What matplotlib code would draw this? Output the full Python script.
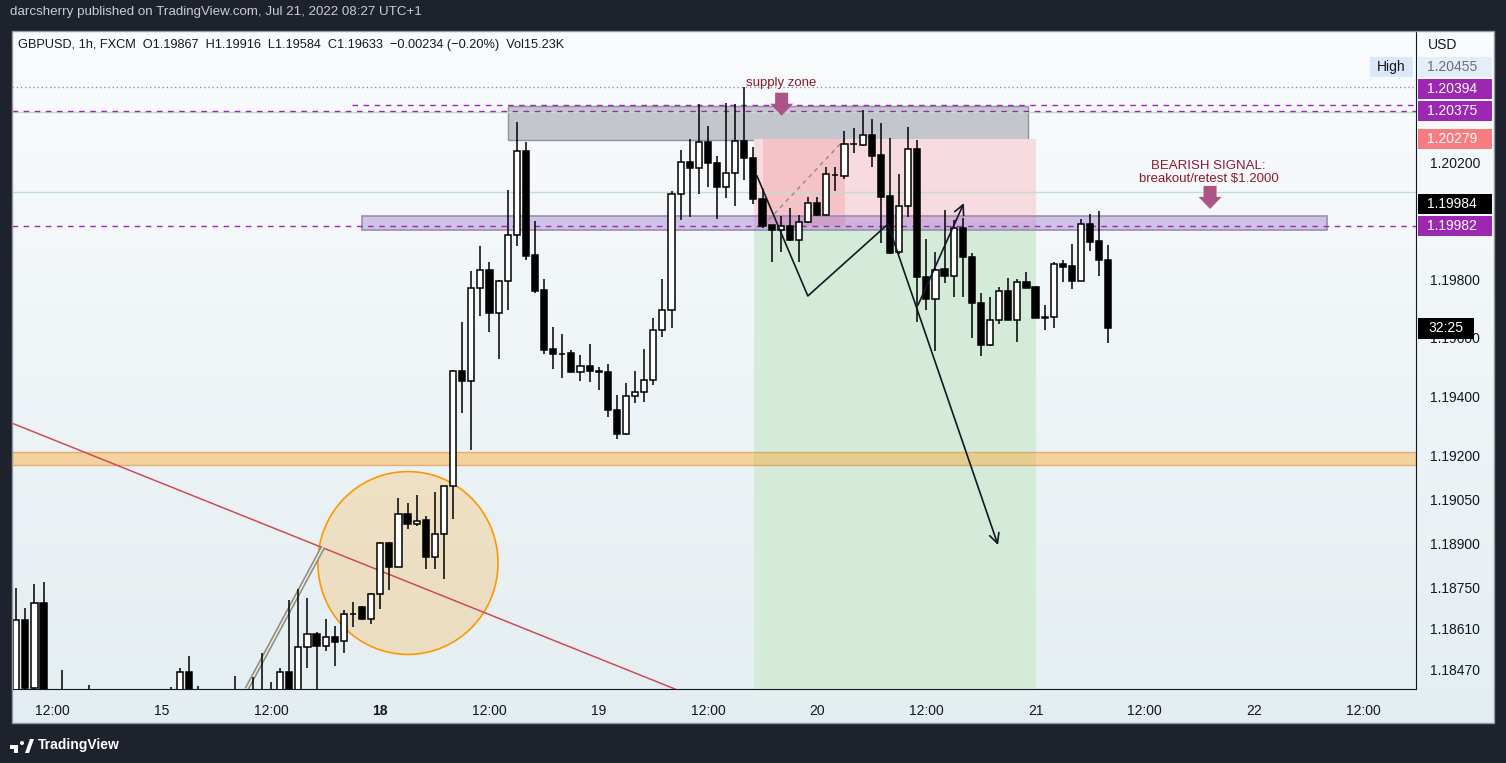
import matplotlib
matplotlib.use("Agg")
import matplotlib.pyplot as plt
import matplotlib.transforms as mtransforms
from matplotlib.patches import Rectangle, Ellipse, Polygon
import numpy as np

plt.rcParams['font.family'] = ['Liberation Sans', 'DejaVu Sans']

# GBPUSD 1h candles, bar 0 = Jul 18 00:00 (UTC+1)
bar_idx = np.arange(-40, 81)
opens = [1.18320, 1.18636, 1.18406, 1.18694, 1.18260, 1.18320, 1.18360, 1.18290, 1.18340, 1.18380,
         1.18330, 1.18300, 1.18340, 1.18360, 1.18380, 1.18350, 1.18370, 1.18390, 1.18380, 1.18459,
         1.18400, 1.18370, 1.18340, 1.18360, 1.18380, 1.18360, 1.18330, 1.18370, 1.18390, 1.18360,
         1.18459, 1.18400, 1.18544, 1.18589, 1.18549, 1.18579, 1.18565, 1.18657, 1.18681, 1.18640,
         1.18725, 1.18900, 1.18819, 1.18998, 1.18964, 1.18977, 1.18853, 1.18930, 1.19094, 1.19486,
         1.19452, 1.19769, 1.19830, 1.19686, 1.19793, 1.19950, 1.20237, 1.19882, 1.19762, 1.19561,
         1.19546, 1.19547, 1.19482, 1.19503, 1.19486, 1.19482, 1.19353, 1.19271, 1.19401, 1.19414,
         1.19455, 1.19626, 1.19694, 1.20090, 1.20199, 1.20179, 1.20267, 1.20196, 1.20116, 1.20161,
         1.20271, 1.20213, 1.20073, 1.19984, 1.19967, 1.19983, 1.19933, 1.19994, 1.20059, 1.20018,
         1.20156, 1.20151, 1.20260, 1.20257, 1.20291, 1.20223, 1.20083, 1.19892, 1.20049, 1.20243,
         1.19807, 1.19734, 1.19834, 1.19812, 1.19974, 1.19875, 1.19718, 1.19577, 1.19661, 1.19760,
         1.19662, 1.19790, 1.19772, 1.19669, 1.19670, 1.19851, 1.19844, 1.19795, 1.19987, 1.19929, 1.19867]
highs = [1.18745, 1.18677, 1.18759, 1.18766, 1.18380, 1.18467, 1.18390, 1.18370, 1.18414, 1.18400,
         1.18380, 1.18360, 1.18390, 1.18395, 1.18398, 1.18390, 1.18398, 1.18408, 1.18474, 1.18513,
         1.18412, 1.18390, 1.18380, 1.18398, 1.18445, 1.18390, 1.18442, 1.18524, 1.18426, 1.18473,
         1.18705, 1.18742, 1.18711, 1.18597, 1.18641, 1.18617, 1.18671, 1.18698, 1.18684, 1.18730,
         1.18903, 1.18902, 1.19055, 1.19035, 1.19063, 1.18992, 1.19075, 1.19094, 1.19490, 1.19653,
         1.19828, 1.19913, 1.19858, 1.19798, 1.20103, 1.20336, 1.20267, 1.19998, 1.19800, 1.19636,
         1.19613, 1.19558, 1.19540, 1.19578, 1.19500, 1.19510, 1.19404, 1.19445, 1.19486, 1.19561,
         1.19668, 1.19800, 1.20100, 1.20240, 1.20277, 1.20397, 1.20322, 1.20219, 1.20400, 1.20397,
         1.20455, 1.20250, 1.20107, 1.19986, 1.20015, 1.20042, 1.20018, 1.20080, 1.20080, 1.20182,
         1.20182, 1.20305, 1.20316, 1.20377, 1.20347, 1.20333, 1.20281, 1.20159, 1.20319, 1.20275,
         1.19937, 1.19892, 1.20036, 1.20002, 1.20009, 1.19890, 1.19752, 1.19738, 1.19775, 1.19803,
         1.19800, 1.19825, 1.19777, 1.19711, 1.19858, 1.19865, 1.19920, 1.20006, 1.20022, 1.20032, 1.19916]
lows = [1.18260, 1.18380, 1.18390, 1.18220, 1.18180, 1.18280, 1.18260, 1.18220, 1.18290, 1.18300,
        1.18270, 1.18250, 1.18290, 1.18310, 1.18330, 1.18300, 1.18320, 1.18340, 1.18360, 1.18380,
        1.18350, 1.18310, 1.18290, 1.18320, 1.18340, 1.18310, 1.18290, 1.18330, 1.18340, 1.18330,
        1.18360, 1.18380, 1.18475, 1.18390, 1.18533, 1.18481, 1.18524, 1.18614, 1.18638, 1.18624,
        1.18676, 1.18740, 1.18818, 1.18949, 1.18959, 1.18810, 1.18810, 1.18776, 1.18983, 1.19343,
        1.19216, 1.19676, 1.19621, 1.19529, 1.19695, 1.19914, 1.19867, 1.19753, 1.19546, 1.19493,
        1.19464, 1.19480, 1.19454, 1.19448, 1.19423, 1.19329, 1.19254, 1.19268, 1.19378, 1.19380,
        1.19438, 1.19604, 1.19635, 1.20001, 1.20013, 1.20090, 1.20114, 1.20004, 1.20076, 1.20049,
        1.20138, 1.20056, 1.19974, 1.19858, 1.19894, 1.19930, 1.19860, 1.19992, 1.20015, 1.20015,
        1.20100, 1.20141, 1.20230, 1.20255, 1.20184, 1.19925, 1.19885, 1.19885, 1.20013, 1.19653,
        1.19695, 1.19556, 1.19788, 1.19738, 1.19738, 1.19598, 1.19539, 1.19573, 1.19646, 1.19660,
        1.19587, 1.19770, 1.19668, 1.19628, 1.19633, 1.19792, 1.19766, 1.19794, 1.19897, 1.19812, 1.19584]
closes = [1.18636, 1.18406, 1.18694, 1.18260, 1.18320, 1.18360, 1.18290, 1.18340, 1.18380, 1.18330,
          1.18300, 1.18340, 1.18360, 1.18380, 1.18350, 1.18370, 1.18390, 1.18380, 1.18459, 1.18400,
          1.18370, 1.18340, 1.18360, 1.18380, 1.18360, 1.18330, 1.18370, 1.18390, 1.18360, 1.18459,
          1.18400, 1.18544, 1.18589, 1.18548, 1.18578, 1.18563, 1.18657, 1.18658, 1.18640, 1.18725,
          1.18900, 1.18819, 1.18998, 1.18964, 1.18976, 1.18853, 1.18930, 1.19094, 1.19486, 1.19452,
          1.19769, 1.19830, 1.19686, 1.19793, 1.19950, 1.20237, 1.19880, 1.19761, 1.19560, 1.19544,
          1.19545, 1.19482, 1.19503, 1.19486, 1.19485, 1.19353, 1.19271, 1.19401, 1.19414, 1.19455,
          1.19626, 1.19694, 1.20090, 1.20199, 1.20179, 1.20267, 1.20196, 1.20116, 1.20161, 1.20271,
          1.20213, 1.20073, 1.19983, 1.19967, 1.19983, 1.19933, 1.19994, 1.20059, 1.20018, 1.20158,
          1.20155, 1.20260, 1.20261, 1.20291, 1.20221, 1.20082, 1.19890, 1.20049, 1.20243, 1.19807,
          1.19734, 1.19833, 1.19812, 1.19974, 1.19875, 1.19718, 1.19577, 1.19661, 1.19759, 1.19662,
          1.19790, 1.19771, 1.19669, 1.19670, 1.19851, 1.19843, 1.19795, 1.19987, 1.19928, 1.19867, 1.19633]

# axis labels
xtick_pos = [-36, -24, -12, 0, 12, 24, 36, 48, 60, 72, 84, 96, 108]
xtick_lbl = ['12:00', '15', '12:00', '18', '12:00', '19', '12:00', '20', '12:00', '21', '12:00', '22', '12:00']
ytick_vals = [1.2020, 1.1980, 1.1960, 1.1940, 1.1920, 1.1905, 1.1890, 1.1875, 1.1861, 1.1847]

# price labels on the scale
lbl_vals = [1.20455, 1.20394, 1.20375, 1.20279, 1.19984, 1.19982]
lbl_bg = ['#e4eefb', '#9c27b0', '#9c27b0', '#f77c80', '#000000', '#9c27b0']
lbl_fg = ['#6a6d78', 'white', 'white', 'white', 'white', 'white']
countdown = '32:25'

# drawings (bar index, price)
supply_zone = (14.0, 71.2, 1.20275, 1.20391)
retest_zone = (-2.0, 104.0, 1.19968, 1.20016)
demand_band = (1.19166, 1.19211)
pos_tool = (41.05, 72.05, 1.19982, 1.20279)        # x0, x1, entry, stop
pos_active = (42.05, 51.07)
hi_line = 1.20455
dashed_lvls = [(1.20394, -3.1), (1.20375, None), (1.19982, None)]
green_lvls = [1.20371, 1.20099]
path_pts = [(41.40, 1.20152), (46.98, 1.19743), (55.78, 1.19988), (67.88, 1.18893)]
arrow2 = [(59.09, 1.19712), (64.13, 1.20060)]
trend_red = [(-40.47, 1.19309), (32.38, 1.18402)]
trend_gray = [(-14.68, 1.18402), (-6.30, 1.18886)]
circle = (3.04, 1.18832, 19.8, 0.00624)

W, H = 1506, 763
PX = 3.412e-5     # price per pixel
BX = 1 / 9.1      # bars per pixel

fig = plt.figure(figsize=(W / 100, H / 100), dpi=100)
fig.patch.set_facecolor('#1e222d')

def fx(x):
    return x / W

def fy(y):
    return 1 - y / H

# pane background gradient
bg = fig.add_axes([fx(12), fy(723), (1494 - 12) / W, (723 - 31) / H])
top_c = np.array([0.978, 0.986, 0.994])
bot_c = np.array([0.894, 0.931, 0.943])
t = np.linspace(0, 1, 256)[:, None]
grad = top_c[None, :] * (1 - t) + bot_c[None, :] * t
bg.imshow(grad[:, None, :], aspect='auto', extent=[0, 1, 0, 1])
bg.set_axis_off()
fig.add_artist(Rectangle((fx(12), fy(723)), (1494 - 12) / W, (723 - 31) / H, transform=fig.transFigure,
                         fill=False, ec='#9598a1', lw=1))

ax = fig.add_axes([fx(12), fy(689), (1416 - 12) / W, (689 - 31) / H])
ax.set_facecolor('none')
ax.set_xlim(-40.47, 113.81)
ax.set_ylim(1.18402, 1.20647)

# zones
ax.add_patch(Rectangle((supply_zone[0], supply_zone[2]), supply_zone[1] - supply_zone[0],
                       supply_zone[3] - supply_zone[2], fc='#c4c6cd', ec='#8f929b', lw=1, zorder=1))
x0, x1, entry, stop = pos_tool
ax.add_patch(Rectangle((x0, entry), x1 - x0, stop - entry, fc='#f7dbe0', ec='none', zorder=1))
ax.add_patch(Rectangle((x0, 1.180), x1 - x0, entry - 1.180, fc='#d5ebda', ec='none', zorder=1))
ax.add_patch(Rectangle((pos_active[0], entry), pos_active[1] - pos_active[0], stop - entry,
                       fc='#f4c2c7', ec='none', zorder=1))
ax.plot([pos_active[0], pos_active[1]], [entry, stop], color='#8a8a8a', lw=1, ls=(0, (3, 3)), zorder=2)
ax.axhspan(demand_band[0], demand_band[1], fc=(1.0, 0.62, 0.08, 0.38), ec=(0.85, 0.55, 0.25, 0.6), lw=1,
           zorder=1.4)
ax.add_patch(Rectangle((retest_zone[0], retest_zone[2]), retest_zone[1] - retest_zone[0],
                       retest_zone[3] - retest_zone[2], fc=(0.55, 0.38, 0.8, 0.35), ec='#9d8cb3', lw=1.2,
                       zorder=1.5))
ax.add_patch(Ellipse((circle[0], circle[1]), circle[2], circle[3], fc=(1, 0.6, 0, 0.2), ec='#ff9800',
                     lw=1.2, zorder=1.5))

# horizontal levels
ax.axhline(hi_line, color='#8f929b', lw=1, ls=(0, (1, 2)), zorder=1)
for v in green_lvls:
    ax.axhline(v, color='#bfe0c7', lw=1, zorder=1)
for v, start in dashed_lvls:
    xs = ax.get_xlim()
    ax.plot([start if start is not None else xs[0], xs[1]], [v, v], color='#9c27b0', lw=1,
            ls=(0, (4, 4)), zorder=2)

# trend lines
ax.plot([p[0] for p in trend_red], [p[1] for p in trend_red], color='#cf4c56', lw=1.1, zorder=2)
ax.plot([p[0] for p in trend_gray], [p[1] for p in trend_gray], color='#8a8a8a', lw=3.4, zorder=2,
        solid_capstyle='butt')
ax.plot([p[0] for p in trend_gray], [p[1] for p in trend_gray], color='#ece8cf', lw=1.2, zorder=2.1,
        solid_capstyle='butt')

# candles
body_w = 0.68
for i, o, h, l, c in zip(bar_idx, opens, highs, lows, closes):
    ax.plot([i, i], [l, h], color='black', lw=1.1, zorder=3, solid_capstyle='butt')
    fc = 'white' if c >= o else 'black'
    ax.add_patch(Rectangle((i - body_w / 2, min(o, c)), body_w, abs(c - o), fc=fc, ec='black', lw=1.1,
                           zorder=3.2))

# path drawing
ax.plot([p[0] for p in path_pts[:-1]], [p[1] for p in path_pts[:-1]], color='#131722', lw=1.2, zorder=5)
ax.annotate('', xy=path_pts[-1], xytext=path_pts[-2],
            arrowprops=dict(arrowstyle='->,head_length=0.7,head_width=0.35', color='#131722', lw=1.2,
                            shrinkA=0, shrinkB=0), zorder=5)
ax.annotate('', xy=arrow2[1], xytext=arrow2[0],
            arrowprops=dict(arrowstyle='->,head_length=0.7,head_width=0.35', color='#131722', lw=1.2,
                            shrinkA=0, shrinkB=0), zorder=5)

def down_arrow(k, tip, color):
    sw, hw = 6.5 * BX, 11.5 * BX
    hl, tl = 12 * PX, 11 * PX
    pts = [(k - sw, tip + hl + tl), (k + sw, tip + hl + tl), (k + sw, tip + hl), (k + hw, tip + hl),
           (k, tip), (k - hw, tip + hl), (k - sw, tip + hl)]
    ax.add_patch(Polygon(pts, closed=True, fc=color, ec='none', zorder=6))

down_arrow(44.1, 1.20358, '#ad5487')
down_arrow(91.18, 1.20040, '#ad5487')
ax.text(44.0, 1.20470, 'supply zone', color='#8b1a2e', fontsize=9.5, ha='center', va='center', zorder=6)
ax.text(91.0, 1.20123, 'BEARISH SIGNAL:\nbreakout/retest $1.2000', color='#8b1a2e', fontsize=9.5,
        ha='center', va='bottom', linespacing=1.05, zorder=6)

# axes styling
for s in ['top', 'left']:
    ax.spines[s].set_visible(False)
ax.spines['right'].set_color('#131722')
ax.spines['bottom'].set_color('#131722')
ax.yaxis.tick_right()
ax.set_yticks(ytick_vals)
ax.set_yticklabels(['%.5f' % v for v in ytick_vals])
ax.set_xticks(xtick_pos)
ax.set_xticklabels(xtick_lbl)
ax.tick_params(axis='y', length=0, pad=10, labelsize=10, labelcolor='#131722')
ax.tick_params(axis='x', length=0, pad=11, labelsize=10, labelcolor='#131722')
for tl_ in ax.get_xticklabels():
    if tl_.get_text() == '18':
        tl_.set_fontweight('bold')

# price labels stacked from the bottom up
trans = mtransforms.blended_transform_factory(ax.transAxes, ax.transData)
aw = 1416 - 12
gap = 22 * PX
order = np.argsort(lbl_vals)
shown = {}
prev = None
for j in order:
    y = lbl_vals[j]
    if prev is not None and y < prev + gap:
        y = prev + gap
    shown[j] = y
    prev = y
for j in range(len(lbl_vals)):
    y = shown[j]
    ax.add_patch(Rectangle((1 + 2 / aw, y - 10 * PX), 74 / aw, 20 * PX, transform=trans, fc=lbl_bg[j],
                           ec='none', clip_on=False, zorder=8))
    ax.text(1 + 11 / aw, y, '%.5f' % lbl_vals[j], transform=trans, color=lbl_fg[j], fontsize=10,
            va='center', ha='left', clip_on=False, zorder=9)
hi_y = shown[0]
ax.add_patch(Rectangle((1 - 46 / aw, hi_y - 10 * PX), 43 / aw, 20 * PX, transform=trans, fc='#dbe8f8',
                       ec='none', clip_on=False, zorder=8))
ax.text(1 - 24.5 / aw, hi_y, 'High', transform=trans, color='#131722', fontsize=10, ha='center',
        va='center', zorder=9)
ax.add_patch(Rectangle((1 + 2 / aw, closes[-1] - 10.5 * PX), 56 / aw, 21 * PX, transform=trans,
                       fc='black', ec='none', clip_on=False, zorder=8))
ax.text(1 + 30 / aw, closes[-1], countdown, transform=trans, color='white', fontsize=10, ha='center',
        va='center', clip_on=False, zorder=9)

# header / legend / footer text
fig.text(fx(10), fy(12), 'darcsherry published on TradingView.com, Jul 21, 2022 08:27 UTC+1',
         color='#c9ccd4', fontsize=9.6, va='center', ha='left')
fig.text(fx(18), fy(45), 'GBPUSD, 1h, FXCM  O1.19867  H1.19916  L1.19584  C1.19633  \u22120.00234 (\u22120.20%)  Vol15.23K',
         color='#131722', fontsize=9.2, va='center', ha='left')
fig.text(fx(1428), fy(45), 'USD', color='#131722', fontsize=10, va='center', ha='left')

# TradingView logo
fig.add_artist(Rectangle((fx(10), fy(749)), 7 / W, 4 / H, transform=fig.transFigure, fc='white', ec='none'))
fig.add_artist(Rectangle((fx(14), fy(753)), 4 / W, 8 / H, transform=fig.transFigure, fc='white', ec='none'))
fig.add_artist(Ellipse((fx(22), fy(743)), 4 / W, 4 / H, transform=fig.transFigure, fc='white', ec='none'))
fig.add_artist(Polygon([(fx(25), fy(753)), (fx(29), fy(753)), (fx(34), fy(739)), (fx(30), fy(739))],
                       closed=True, transform=fig.transFigure, fc='white', ec='none'))
fig.text(fx(38), fy(745), 'TradingView', color='white', fontsize=10, fontweight='bold', va='center', ha='left')

fig.savefig('out.png', dpi=100, facecolor=fig.get_facecolor())
